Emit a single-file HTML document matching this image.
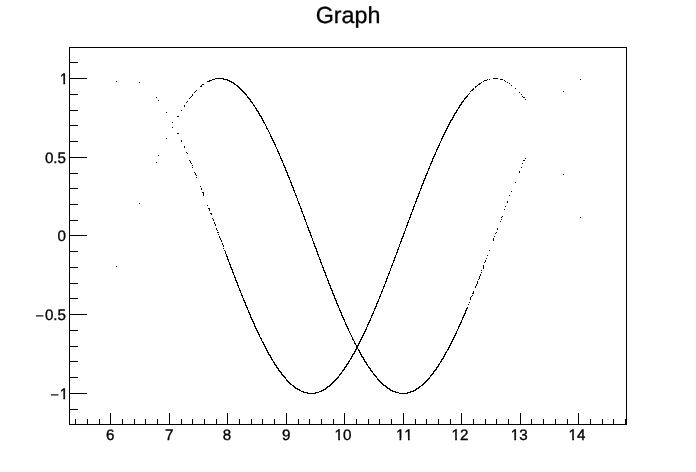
<!DOCTYPE html>
<html><head><meta charset="utf-8"><style>
html,body{margin:0;padding:0;background:#fff;}
svg{display:block;will-change:transform;}
text{font-family:"Liberation Sans",Arial,sans-serif;fill:#000;text-rendering:geometricPrecision;font-kerning:none;}
</style></head><body>
<svg width="696" height="472" viewBox="0 0 696 472">
<defs><clipPath id="c0"><rect x="-60" y="-40" width="120" height="38.000"/><rect x="-4.821" y="-2.010" width="1.723" height="8.000"/><rect x="0.000" y="-2.010" width="8.454" height="8.000"/></clipPath><clipPath id="c1"><rect x="-60" y="-40" width="120" height="38.000"/><rect x="-4.821" y="-2.010" width="1.723" height="8.000"/><rect x="3.632" y="-2.010" width="1.723" height="8.000"/></clipPath><clipPath id="c2"><rect x="-60" y="-40" width="120" height="38.000"/><rect x="-4.821" y="-2.010" width="1.723" height="8.000"/><rect x="0.000" y="-2.010" width="8.454" height="8.000"/></clipPath><clipPath id="c3"><rect x="-60" y="-40" width="120" height="38.000"/><rect x="-4.821" y="-2.010" width="1.723" height="8.000"/><rect x="0.000" y="-2.010" width="8.454" height="8.000"/></clipPath><clipPath id="c4"><rect x="-60" y="-40" width="120" height="38.000"/><rect x="-4.821" y="-2.010" width="1.723" height="8.000"/><rect x="0.000" y="-2.010" width="8.454" height="8.000"/></clipPath><clipPath id="c5"><rect x="-60" y="-40" width="120" height="38.000"/><rect x="-4.821" y="-2.010" width="1.723" height="8.000"/></clipPath><clipPath id="c6"><rect x="-60" y="-40" width="120" height="38.000"/><rect x="-17.980" y="-2.010" width="8.877" height="8.000"/><rect x="-4.821" y="-2.010" width="1.723" height="8.000"/></clipPath></defs>
<g fill="#000" shape-rendering="crispEdges">
<rect x="69" y="47" width="558" height="1"/>
<rect x="69" y="424" width="558" height="1"/>
<rect x="69" y="47" width="1" height="378"/>
<rect x="626" y="47" width="1" height="378"/>
<rect x="75" y="419" width="1" height="5"/>
<rect x="87" y="419" width="1" height="5"/>
<rect x="99" y="419" width="1" height="5"/>
<rect x="110" y="413" width="1" height="11"/>
<rect x="122" y="419" width="1" height="5"/>
<rect x="134" y="419" width="1" height="5"/>
<rect x="145" y="419" width="1" height="5"/>
<rect x="157" y="419" width="1" height="5"/>
<rect x="169" y="413" width="1" height="11"/>
<rect x="181" y="419" width="1" height="5"/>
<rect x="192" y="419" width="1" height="5"/>
<rect x="204" y="419" width="1" height="5"/>
<rect x="216" y="419" width="1" height="5"/>
<rect x="227" y="413" width="1" height="11"/>
<rect x="239" y="419" width="1" height="5"/>
<rect x="251" y="419" width="1" height="5"/>
<rect x="262" y="419" width="1" height="5"/>
<rect x="274" y="419" width="1" height="5"/>
<rect x="286" y="413" width="1" height="11"/>
<rect x="298" y="419" width="1" height="5"/>
<rect x="309" y="419" width="1" height="5"/>
<rect x="321" y="419" width="1" height="5"/>
<rect x="333" y="419" width="1" height="5"/>
<rect x="344" y="413" width="1" height="11"/>
<rect x="356" y="419" width="1" height="5"/>
<rect x="368" y="419" width="1" height="5"/>
<rect x="379" y="419" width="1" height="5"/>
<rect x="391" y="419" width="1" height="5"/>
<rect x="403" y="413" width="1" height="11"/>
<rect x="415" y="419" width="1" height="5"/>
<rect x="426" y="419" width="1" height="5"/>
<rect x="438" y="419" width="1" height="5"/>
<rect x="450" y="419" width="1" height="5"/>
<rect x="461" y="413" width="1" height="11"/>
<rect x="473" y="419" width="1" height="5"/>
<rect x="485" y="419" width="1" height="5"/>
<rect x="496" y="419" width="1" height="5"/>
<rect x="508" y="419" width="1" height="5"/>
<rect x="520" y="413" width="1" height="11"/>
<rect x="531" y="419" width="1" height="5"/>
<rect x="543" y="419" width="1" height="5"/>
<rect x="555" y="419" width="1" height="5"/>
<rect x="567" y="419" width="1" height="5"/>
<rect x="578" y="413" width="1" height="11"/>
<rect x="590" y="419" width="1" height="5"/>
<rect x="602" y="419" width="1" height="5"/>
<rect x="613" y="419" width="1" height="5"/>
<rect x="625" y="419" width="1" height="5"/>
<rect x="69" y="424" width="9" height="1"/>
<rect x="69" y="409" width="9" height="1"/>
<rect x="69" y="393" width="18" height="1"/>
<rect x="69" y="377" width="9" height="1"/>
<rect x="69" y="361" width="9" height="1"/>
<rect x="69" y="346" width="9" height="1"/>
<rect x="69" y="330" width="9" height="1"/>
<rect x="69" y="314" width="18" height="1"/>
<rect x="69" y="298" width="9" height="1"/>
<rect x="69" y="283" width="9" height="1"/>
<rect x="69" y="267" width="9" height="1"/>
<rect x="69" y="251" width="9" height="1"/>
<rect x="69" y="235" width="18" height="1"/>
<rect x="69" y="220" width="9" height="1"/>
<rect x="69" y="204" width="9" height="1"/>
<rect x="69" y="188" width="9" height="1"/>
<rect x="69" y="173" width="9" height="1"/>
<rect x="69" y="157" width="18" height="1"/>
<rect x="69" y="141" width="9" height="1"/>
<rect x="69" y="125" width="9" height="1"/>
<rect x="69" y="110" width="9" height="1"/>
<rect x="69" y="94" width="9" height="1"/>
<rect x="69" y="78" width="18" height="1"/>
<rect x="69" y="62" width="9" height="1"/>
<rect x="69" y="47" width="9" height="1"/>
</g>
<path d="M116 81h1v1h-1zM116 266h1v1h-1zM139 82h1v1h-1zM139 203h1v1h-1zM156 97h1v1h-1zM156 162h1v1h-1zM158 100h1v1h-1zM158 155h1v1h-1zM166 112h1v1h-1zM166 138h1v1h-1zM172 122h1v1h-1zM172 127h1v1h-1zM177 116h1v1h-1zM177 133h1v1h-1zM178 116h1v1h-1zM178 133h1v1h-1zM181 110h1v1h-1zM181 140h1v2h-1zM184 105h1v2h-1zM184 146h1v2h-1zM186 102h1v1h-1zM186 152h1v1h-1zM187 101h1v1h-1zM187 153h1v1h-1zM189 98h1v1h-1zM189 160h1v1h-1zM190 97h1v1h-1zM190 161h1v2h-1zM191 96h1v1h-1zM191 163h1v1h-1zM192 94h1v2h-1zM192 165h1v1h-1zM192 167h1v1h-1zM194 92h1v1h-1zM194 172h1v1h-1zM195 91h1v1h-1zM195 173h1v2h-1zM196 90h1v1h-1zM196 175h1v1h-1zM196 177h1v1h-1zM200 86h1v1h-1zM200 186h1v1h-1zM201 85h1v2h-1zM201 188h1v2h-1zM202 84h1v1h-1zM202 192h1v1h-1zM203 84h1v1h-1zM203 192h1v4h-1zM207 81h1v1h-1zM207 205h1v1h-1zM208 81h1v1h-1zM208 208h1v1h-1zM209 80h1v2h-1zM209 208h1v3h-1zM210 80h1v1h-1zM210 213h1v1h-1zM211 80h1v1h-1zM211 213h1v2h-1zM212 79h1v1h-1zM212 218h1v1h-1zM213 79h1v1h-1zM213 219h1v2h-1zM214 79h1v1h-1zM214 222h1v2h-1zM215 78h1v1h-1zM215 224h1v2h-1zM216 78h1v1h-1zM216 228h1v2h-1zM217 78h1v1h-1zM217 230h1v1h-1zM217 232h1v1h-1zM218 78h1v1h-1zM218 232h1v1h-1zM218 234h1v1h-1zM219 78h1v1h-1zM219 236h1v2h-1zM220 78h1v1h-1zM220 238h1v2h-1zM221 78h1v1h-1zM221 240h1v2h-1zM222 78h1v1h-1zM222 243h1v2h-1zM223 78h1v2h-1zM223 245h1v2h-1zM223 248h1v1h-1zM224 79h1v1h-1zM224 250h1v1h-1zM225 79h1v1h-1zM225 251h1v3h-1zM226 79h1v1h-1zM226 254h1v3h-1zM227 79h1v2h-1zM227 256h1v4h-1zM228 80h1v1h-1zM228 259h1v3h-1zM229 80h1v2h-1zM229 262h1v3h-1zM230 81h1v1h-1zM230 264h1v4h-1zM231 81h1v2h-1zM231 267h1v3h-1zM232 82h1v1h-1zM232 269h1v4h-1zM233 82h1v2h-1zM233 272h1v3h-1zM234 83h1v2h-1zM234 275h1v3h-1zM235 84h1v1h-1zM235 277h1v4h-1zM236 85h1v1h-1zM236 280h1v3h-1zM237 85h1v2h-1zM237 282h1v4h-1zM238 86h1v2h-1zM238 285h1v3h-1zM239 87h1v2h-1zM239 288h1v3h-1zM240 88h1v2h-1zM240 290h1v3h-1zM241 89h1v2h-1zM241 293h1v3h-1zM242 90h1v2h-1zM242 295h1v3h-1zM243 91h1v2h-1zM243 298h1v3h-1zM244 92h1v2h-1zM244 300h1v3h-1zM245 93h1v2h-1zM245 302h1v4h-1zM246 94h1v2h-1zM246 305h1v3h-1zM247 96h1v2h-1zM247 307h1v3h-1zM248 97h1v2h-1zM248 310h1v3h-1zM249 98h1v2h-1zM249 312h1v3h-1zM250 99h1v3h-1zM250 314h1v4h-1zM251 101h1v2h-1zM251 317h1v3h-1zM252 102h1v2h-1zM252 319h1v3h-1zM253 104h1v2h-1zM253 321h1v3h-1zM254 105h1v2h-1zM254 323h1v4h-1zM255 107h1v2h-1zM255 326h1v3h-1zM256 108h1v3h-1zM256 328h1v3h-1zM257 110h1v2h-1zM257 330h1v3h-1zM258 111h1v3h-1zM258 332h1v3h-1zM259 113h1v3h-1zM259 334h1v3h-1zM260 115h1v2h-1zM260 337h1v2h-1zM261 116h1v3h-1zM261 338h1v3h-1zM262 118h1v3h-1zM262 341h1v2h-1zM263 120h1v3h-1zM263 342h1v3h-1zM264 122h1v2h-1zM264 344h1v3h-1zM265 124h1v2h-1zM265 346h1v3h-1zM266 126h1v3h-1zM266 348h1v3h-1zM267 128h1v2h-1zM267 350h1v3h-1zM268 130h1v2h-1zM268 352h1v3h-1zM269 132h1v2h-1zM269 354h1v2h-1zM270 134h1v3h-1zM270 355h1v3h-1zM271 136h1v3h-1zM271 357h1v3h-1zM272 138h1v3h-1zM272 359h1v2h-1zM273 140h1v3h-1zM273 361h1v2h-1zM274 142h1v3h-1zM274 362h1v3h-1zM275 144h1v3h-1zM275 364h1v2h-1zM276 147h1v2h-1zM276 365h1v3h-1zM277 149h1v3h-1zM277 367h1v2h-1zM278 151h1v3h-1zM278 368h1v3h-1zM279 153h1v3h-1zM279 370h1v2h-1zM280 156h1v3h-1zM280 371h1v2h-1zM281 158h1v3h-1zM281 372h1v3h-1zM282 160h1v3h-1zM282 374h1v2h-1zM283 163h1v3h-1zM283 375h1v2h-1zM284 165h1v3h-1zM284 376h1v2h-1zM285 167h1v4h-1zM285 377h1v2h-1zM286 170h1v3h-1zM286 379h1v2h-1zM287 172h1v4h-1zM287 380h1v2h-1zM288 175h1v3h-1zM288 381h1v2h-1zM289 177h1v3h-1zM289 382h1v2h-1zM290 180h1v3h-1zM290 383h1v2h-1zM291 182h1v4h-1zM291 384h1v1h-1zM292 185h1v3h-1zM292 385h1v1h-1zM293 187h1v4h-1zM293 385h1v2h-1zM294 190h1v3h-1zM294 386h1v2h-1zM295 193h1v3h-1zM295 387h1v2h-1zM296 195h1v3h-1zM296 388h1v1h-1zM297 198h1v3h-1zM297 388h1v2h-1zM298 201h1v3h-1zM298 389h1v1h-1zM299 203h1v3h-1zM299 389h1v2h-1zM300 206h1v3h-1zM300 390h1v1h-1zM301 208h1v4h-1zM301 391h1v1h-1zM302 211h1v3h-1zM302 391h1v1h-1zM303 214h1v3h-1zM303 391h1v2h-1zM304 216h1v4h-1zM304 392h1v1h-1zM305 219h1v3h-1zM305 392h1v1h-1zM306 222h1v3h-1zM306 392h1v1h-1zM307 225h1v3h-1zM307 392h1v2h-1zM308 227h1v4h-1zM308 393h1v1h-1zM309 230h1v3h-1zM309 393h1v1h-1zM310 232h1v4h-1zM310 393h1v1h-1zM311 235h1v3h-1zM311 393h1v1h-1zM312 238h1v3h-1zM312 393h1v1h-1zM313 241h1v3h-1zM313 393h1v1h-1zM314 243h1v4h-1zM314 393h1v1h-1zM315 246h1v3h-1zM315 392h1v2h-1zM316 248h1v4h-1zM316 392h1v1h-1zM317 251h1v4h-1zM317 392h1v1h-1zM318 254h1v3h-1zM318 392h1v1h-1zM319 257h1v3h-1zM319 391h1v1h-1zM320 259h1v4h-1zM320 391h1v1h-1zM321 262h1v3h-1zM321 390h1v2h-1zM322 265h1v3h-1zM322 390h1v1h-1zM323 267h1v4h-1zM323 389h1v2h-1zM324 270h1v3h-1zM324 389h1v1h-1zM325 272h1v4h-1zM325 388h1v2h-1zM326 275h1v3h-1zM326 387h1v2h-1zM327 278h1v3h-1zM327 386h1v2h-1zM328 280h1v4h-1zM328 386h1v1h-1zM329 283h1v3h-1zM329 385h1v2h-1zM330 285h1v4h-1zM330 384h1v2h-1zM331 288h1v3h-1zM331 383h1v2h-1zM332 290h1v4h-1zM332 382h1v2h-1zM333 293h1v3h-1zM333 381h1v2h-1zM334 295h1v4h-1zM334 380h1v2h-1zM335 298h1v3h-1zM335 379h1v2h-1zM336 300h1v4h-1zM336 378h1v2h-1zM337 303h1v3h-1zM337 377h1v2h-1zM338 305h1v3h-1zM338 376h1v2h-1zM339 308h1v3h-1zM339 374h1v2h-1zM340 310h1v3h-1zM340 373h1v2h-1zM341 312h1v4h-1zM341 372h1v2h-1zM342 315h1v3h-1zM342 370h1v2h-1zM343 317h1v3h-1zM343 369h1v2h-1zM344 319h1v3h-1zM344 367h1v3h-1zM345 322h1v3h-1zM345 366h1v2h-1zM346 324h1v3h-1zM346 364h1v3h-1zM347 326h1v3h-1zM347 363h1v2h-1zM348 328h1v3h-1zM348 361h1v3h-1zM349 331h1v2h-1zM349 360h1v2h-1zM350 333h1v2h-1zM350 358h1v2h-1zM351 335h1v2h-1zM351 356h1v3h-1zM352 337h1v3h-1zM352 354h1v3h-1zM353 339h1v2h-1zM353 353h1v2h-1zM354 341h1v3h-1zM354 351h1v3h-1zM355 343h1v2h-1zM355 349h1v3h-1zM356 345h1v5h-1zM357 345h1v4h-1zM358 343h1v3h-1zM358 349h1v2h-1zM359 341h1v3h-1zM359 350h1v3h-1zM360 339h1v3h-1zM360 352h1v3h-1zM361 337h1v3h-1zM361 354h1v3h-1zM362 335h1v3h-1zM362 356h1v2h-1zM363 333h1v3h-1zM363 357h1v3h-1zM364 331h1v3h-1zM364 359h1v3h-1zM365 329h1v3h-1zM365 361h1v2h-1zM366 327h1v3h-1zM366 362h1v3h-1zM367 324h1v3h-1zM367 364h1v2h-1zM368 322h1v3h-1zM368 366h1v2h-1zM369 320h1v3h-1zM369 367h1v2h-1zM370 318h1v3h-1zM370 368h1v3h-1zM371 315h1v3h-1zM371 370h1v2h-1zM372 313h1v3h-1zM372 371h1v2h-1zM373 311h1v3h-1zM373 373h1v2h-1zM374 308h1v3h-1zM374 374h1v2h-1zM375 306h1v3h-1zM375 375h1v2h-1zM376 303h1v4h-1zM376 376h1v2h-1zM377 301h1v3h-1zM377 378h1v2h-1zM378 299h1v3h-1zM378 379h1v2h-1zM379 296h1v3h-1zM379 380h1v2h-1zM380 294h1v3h-1zM380 381h1v2h-1zM381 291h1v3h-1zM381 382h1v2h-1zM382 289h1v3h-1zM382 383h1v2h-1zM383 286h1v3h-1zM383 384h1v2h-1zM384 284h1v3h-1zM384 385h1v1h-1zM385 281h1v3h-1zM385 385h1v2h-1zM386 278h1v4h-1zM386 386h1v2h-1zM387 276h1v3h-1zM387 387h1v2h-1zM388 273h1v3h-1zM388 388h1v1h-1zM389 271h1v3h-1zM389 388h1v2h-1zM390 268h1v3h-1zM390 389h1v2h-1zM391 265h1v3h-1zM391 390h1v1h-1zM392 263h1v3h-1zM392 390h1v2h-1zM393 260h1v3h-1zM393 391h1v1h-1zM394 257h1v4h-1zM394 391h1v1h-1zM395 255h1v3h-1zM395 391h1v2h-1zM396 252h1v3h-1zM396 392h1v1h-1zM397 249h1v4h-1zM397 392h1v1h-1zM398 247h1v3h-1zM398 392h1v1h-1zM399 244h1v3h-1zM399 393h1v1h-1zM400 241h1v3h-1zM400 393h1v1h-1zM401 238h1v4h-1zM401 393h1v1h-1zM402 236h1v3h-1zM402 393h1v1h-1zM403 233h1v4h-1zM403 393h1v1h-1zM404 231h1v3h-1zM404 393h1v1h-1zM405 228h1v3h-1zM405 393h1v1h-1zM406 225h1v3h-1zM406 393h1v1h-1zM407 222h1v4h-1zM407 392h1v2h-1zM408 220h1v3h-1zM408 392h1v1h-1zM409 217h1v3h-1zM409 392h1v1h-1zM410 214h1v4h-1zM410 391h1v2h-1zM411 212h1v3h-1zM411 391h1v1h-1zM412 209h1v3h-1zM412 391h1v1h-1zM413 206h1v4h-1zM413 390h1v2h-1zM414 204h1v3h-1zM414 390h1v1h-1zM415 201h1v3h-1zM415 389h1v2h-1zM416 198h1v4h-1zM416 388h1v2h-1zM417 196h1v3h-1zM417 388h1v1h-1zM418 193h1v4h-1zM418 387h1v2h-1zM419 191h1v3h-1zM419 386h1v2h-1zM420 188h1v3h-1zM420 386h1v1h-1zM421 185h1v4h-1zM421 385h1v1h-1zM422 183h1v3h-1zM422 384h1v2h-1zM423 180h1v4h-1zM423 383h1v2h-1zM424 178h1v3h-1zM424 382h1v2h-1zM425 175h1v4h-1zM425 381h1v2h-1zM426 173h1v3h-1zM426 380h1v2h-1zM427 171h1v3h-1zM427 379h1v2h-1zM428 168h1v3h-1zM428 378h1v2h-1zM429 166h1v3h-1zM429 377h1v2h-1zM430 163h1v3h-1zM430 375h1v2h-1zM431 161h1v3h-1zM431 374h1v2h-1zM432 158h1v4h-1zM432 373h1v2h-1zM433 156h1v3h-1zM433 371h1v3h-1zM434 154h1v3h-1zM434 370h1v2h-1zM435 152h1v3h-1zM435 369h1v2h-1zM436 149h1v3h-1zM436 367h1v3h-1zM437 147h1v3h-1zM437 366h1v2h-1zM438 145h1v3h-1zM438 364h1v3h-1zM439 143h1v3h-1zM439 363h1v2h-1zM440 141h1v2h-1zM440 361h1v2h-1zM441 138h1v3h-1zM441 359h1v3h-1zM442 136h1v3h-1zM442 358h1v2h-1zM443 134h1v3h-1zM443 356h1v3h-1zM444 132h1v3h-1zM444 354h1v3h-1zM445 130h1v3h-1zM445 352h1v3h-1zM446 128h1v3h-1zM446 351h1v2h-1zM447 126h1v3h-1zM447 349h1v2h-1zM448 124h1v3h-1zM448 347h1v3h-1zM449 122h1v3h-1zM449 345h1v3h-1zM450 120h1v3h-1zM450 343h1v3h-1zM451 119h1v2h-1zM451 341h1v3h-1zM452 117h1v3h-1zM452 339h1v3h-1zM453 115h1v3h-1zM453 337h1v3h-1zM454 113h1v3h-1zM454 335h1v3h-1zM455 112h1v2h-1zM455 333h1v3h-1zM456 110h1v3h-1zM456 331h1v3h-1zM457 109h1v2h-1zM457 329h1v2h-1zM458 107h1v2h-1zM458 326h1v3h-1zM459 105h1v3h-1zM459 324h1v3h-1zM460 104h1v2h-1zM460 322h1v3h-1zM461 102h1v3h-1zM461 320h1v3h-1zM462 101h1v2h-1zM462 317h1v3h-1zM463 100h1v2h-1zM463 315h1v3h-1zM464 98h1v2h-1zM464 313h1v3h-1zM465 97h1v2h-1zM465 310h1v4h-1zM466 96h1v2h-1zM466 308h1v3h-1zM467 95h1v2h-1zM467 307h1v2h-1zM468 94h1v1h-1zM468 304h1v1h-1zM469 93h1v1h-1zM469 302h1v1h-1zM470 91h1v1h-1zM470 297h1v3h-1zM471 90h1v1h-1zM471 296h1v1h-1zM472 89h1v2h-1zM472 293h1v1h-1zM472 295h1v1h-1zM473 88h1v2h-1zM473 291h1v3h-1zM475 86h1v2h-1zM475 286h1v2h-1zM476 86h1v1h-1zM476 284h1v2h-1zM477 85h1v1h-1zM477 281h1v3h-1zM478 84h1v1h-1zM478 279h1v1h-1zM479 83h1v2h-1zM479 276h1v3h-1zM480 83h1v1h-1zM480 274h1v2h-1zM481 82h1v1h-1zM481 270h1v1h-1zM481 272h1v1h-1zM483 81h1v1h-1zM483 265h1v4h-1zM484 80h1v1h-1zM484 262h1v1h-1zM485 80h1v1h-1zM485 260h1v2h-1zM486 80h1v1h-1zM486 258h1v1h-1zM487 79h1v1h-1zM487 255h1v1h-1zM489 79h1v1h-1zM489 250h1v1h-1zM493 78h1v1h-1zM493 238h1v3h-1zM494 78h1v1h-1zM494 236h1v1h-1zM495 78h1v1h-1zM495 233h1v1h-1zM496 78h1v1h-1zM496 232h1v1h-1zM497 78h1v1h-1zM497 228h1v2h-1zM500 79h1v1h-1zM500 221h1v1h-1zM501 79h1v1h-1zM501 217h1v1h-1zM501 219h1v1h-1zM502 79h1v1h-1zM502 216h1v1h-1zM504 80h1v1h-1zM504 209h1v1h-1zM505 81h1v1h-1zM505 206h1v1h-1zM507 82h1v1h-1zM507 201h1v2h-1zM509 83h1v1h-1zM509 195h1v1h-1zM511 85h1v1h-1zM511 191h1v1h-1zM515 88h1v1h-1zM515 182h1v1h-1zM519 92h1v1h-1zM519 171h1v2h-1zM521 94h1v1h-1zM521 167h1v1h-1zM522 96h1v1h-1zM522 163h1v1h-1zM523 97h1v1h-1zM523 160h1v1h-1zM524 97h1v1h-1zM524 160h1v1h-1zM525 99h1v1h-1zM525 158h1v1h-1zM563 91h1v1h-1zM563 174h1v1h-1zM580 79h1v1h-1zM580 217h1v1h-1z" fill="#000" shape-rendering="crispEdges"/>
<g font-size="15.2" stroke="#000" stroke-width="0.35">
<text transform="translate(110.28,440) scale(1.0,1)" text-anchor="middle">6</text>
<text transform="translate(169.26,440) scale(1.0,1)" text-anchor="middle">7</text>
<text transform="translate(227.03,440) scale(1.0,1)" text-anchor="middle">8</text>
<text transform="translate(286.19,440) scale(1.0,1)" text-anchor="middle">9</text>
<text transform="translate(343.06,440) scale(1.0,1)" text-anchor="middle" clip-path="url(#c0)">10</text>
<text transform="translate(404.36,440) scale(1.0,1)" text-anchor="middle" clip-path="url(#c1)">11</text>
<text transform="translate(460.02,440) scale(1.0,1)" text-anchor="middle" clip-path="url(#c2)">12</text>
<text transform="translate(519.18,440) scale(1.0,1)" text-anchor="middle" clip-path="url(#c3)">13</text>
<text transform="translate(577.07,440) scale(1.0,1)" text-anchor="middle" clip-path="url(#c4)">14</text>
<text transform="translate(68.2,84.00) scale(1.0,1)" text-anchor="end" clip-path="url(#c5)">1</text>
<text transform="translate(66.0,163.00) scale(1.0,1)" text-anchor="end">0.5</text>
<text transform="translate(66.0,241.00) scale(1.0,1)" text-anchor="end">0</text>
<text transform="translate(66.0,320.00) scale(1.0,1)" text-anchor="end"><tspan dy="1.0" stroke-width="0.1">−</tspan><tspan dy="-1.0" dx="0.85">0.5</tspan></text>
<text transform="translate(68.2,399.00) scale(1.0,1)" text-anchor="end" clip-path="url(#c6)"><tspan dy="1.0" stroke-width="0.1">−</tspan><tspan dy="-1.0" dx="0.65">1</tspan></text>
</g>
<text transform="translate(348,23) scale(1,1)" text-anchor="middle" font-size="23.3" stroke="#000" stroke-width="0.3">Graph</text>
</svg>
</body></html>
